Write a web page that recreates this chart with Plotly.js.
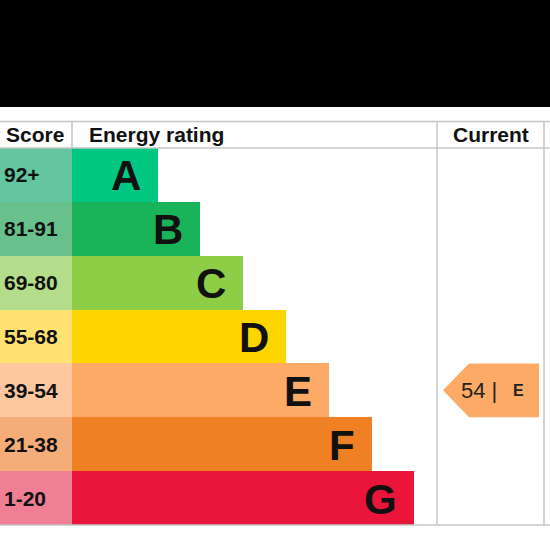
<!DOCTYPE html>
<html><head>
<script src="https://cdn.plot.ly/plotly-3.0.1.min.js"></script>
<style>body{margin:0;background:#fff}</style>
</head><body>
<div id="chart" style="width:550px;height:550px"></div>
<script>
// ---- data ----
const ratings = ['A','B','C','D','E','F','G'];
const scoreRanges = ['92+','81-91','69-80','55-68','39-54','21-38','1-20'];
const barLengths = [2,3,4,5,6,7,8];
const currentScore = 54;
const currentRating = 'E';
const headers = ['Score','Energy rating','Current'];

// ---- styles ----
const barColors = ['#00c781','#19b459','#8dce46','#ffd500','#fcaa65','#ef8023','#e9153b'];
const scoreColors = ['#63c6a0','#68c08c','#b3dd8a','#ffe26f','#fdc8a0','#f4ad78','#f07f96'];
const U = 42.8, X0 = 72, W = 550, H = 550;
const px = p => (p - X0) / U;            // pixel column -> x units
const ROW = 53.86, TOP = 148;
const ypx = p => (p - TOP) / ROW - 0.5;   // pixel row -> y units
const FONT = 'Liberation Sans, Arial, sans-serif';
const rows = ratings.map((_, i) => i);

const traces = [
  {type:'bar', orientation:'h', y: rows, x: rows.map(() => px(X0) - px(0)), base: px(0),
   marker:{color: scoreColors, line:{width:0}}, width: 1, hoverinfo:'skip', showlegend:false},
  {type:'bar', orientation:'h', y: rows, x: barLengths, base: 0,
   marker:{color: barColors, line:{width:0}}, width: 1, hoverinfo:'skip', showlegend:false}
];

const ci = ratings.indexOf(currentRating);
const ci_col = barColors[ci];
const gl = {color:'#c6c6c6', width:1.5};
const shapes = [
  {type:'rect', xref:'paper', yref:'paper', x0:0, x1:1, y0:1 - 107/H, y1:1, fillcolor:'#000', line:{width:0}, layer:'below'},
  {type:'line', xref:'paper', yref:'y', x0:0, x1:1, y0:ypx(121.5), y1:ypx(121.5), line:gl},
  {type:'line', xref:'paper', yref:'y', x0:0, x1:1, y0:-0.5, y1:-0.5, line:gl},
  {type:'line', xref:'paper', yref:'y', x0:0, x1:1, y0:6.5, y1:6.5, line:gl},
  {type:'line', xref:'x', yref:'y', x0:0, x1:0, y0:ypx(121.5), y1:-0.5, line:gl},
  {type:'line', xref:'x', yref:'y', x0:px(437), x1:px(437), y0:ypx(121.5), y1:6.5, line:gl},
  {type:'line', xref:'x', yref:'y', x0:px(544), x1:px(544), y0:ypx(121.5), y1:6.5, line:gl},
  {type:'path', xref:'x', yref:'y', fillcolor: ci_col, line:{width:0},
   path:`M ${px(443)},${ci} L ${px(469)},${ci-0.5} L ${px(539)},${ci-0.5} L ${px(539)},${ci+0.5} L ${px(469)},${ci+0.5} Z`}
];

const annotations = [];
const hy = (ypx(121.5) + (-0.5)) / 2;
const hdrX = [4, 87, 491], hdrAnchor = ['left','left','center'];
headers.forEach((h, k) => annotations.push({xref:'paper', yref:'y', x:hdrX[k]/W, y:hy, xanchor:hdrAnchor[k], yanchor:'middle',
  text:'<b>'+h+'</b>', showarrow:false, font:{family:FONT, size:21, color:'#111'}}));
rows.forEach(i => {
  annotations.push({xref:'paper', yref:'y', x:2/W, y:i, xanchor:'left', yanchor:'middle', text:'<b>'+scoreRanges[i]+'</b>', showarrow:false, font:{family:FONT, size:21, color:'#111'}});
  annotations.push({xref:'x', yref:'y', x:barLengths[i], y:i, xanchor:'right', yanchor:'middle', xshift:-15, yshift:-1, text:'<b>'+ratings[i]+'</b>', showarrow:false, font:{family:FONT, size:42, color:'#111'}});
});
annotations.push({xref:'x', yref:'y', x:px(459), y:ci, xanchor:'left', yanchor:'middle', text:currentScore+' |', showarrow:false, font:{family:FONT, size:22, color:'#222'}});
annotations.push({xref:'x', yref:'y', x:px(511), y:ci, xanchor:'left', yanchor:'middle', text:'<b>'+currentRating+'</b>', showarrow:false, font:{family:FONT, size:16, color:'#222'}});

const layout = {
  width: W, height: H, margin:{l:0, r:0, t:0, b:0},
  paper_bgcolor:'#fff', plot_bgcolor:'#fff', barmode:'overlay', bargap:0,
  xaxis:{range:[px(0), px(W)], visible:false, fixedrange:true},
  yaxis:{range:[ypx(H), ypx(0)], visible:false, fixedrange:true},
  shapes, annotations, showlegend:false
};
Plotly.newPlot('chart', traces, layout, {staticPlot:true, displayModeBar:false});
</script>
</body></html>
